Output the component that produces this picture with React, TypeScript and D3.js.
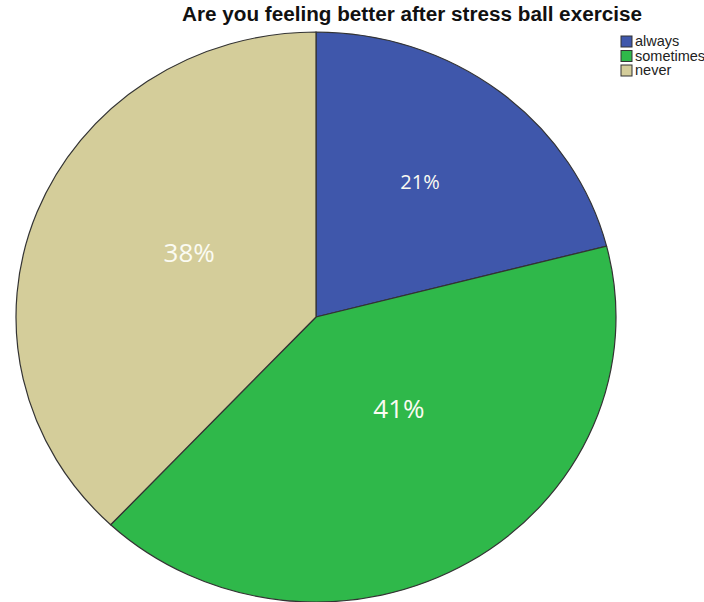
import React from "react";
import * as d3 from "d3";

const categories = ["always", "sometimes", "never"];
const values = [21, 41, 38];
const labels = ["21%", "41%", "38%"];
const colors = ["#3f57ab", "#2fb84a", "#d4cd9a"];
const labelRadiusFrac = [0.587, 0.422, 0.48];
const labelAngleOffsetDeg = [-1.6, -10.3, 6.7];
const labelFontSize = [20, 26, 26];
const title = "Are you feeling better after stress ball exercise";

export default function App() {
  const W = 704, H = 602;
  const cx = 316, cy = 317, rx = 300, ry = 285;
  const pie = d3.pie<number>().sort(null).value((d) => d)(values);
  const arc = d3.arc<d3.PieArcDatum<number>>().innerRadius(0).outerRadius(rx);
  const sy = ry / rx;
  return (
    <svg width={W} height={H} style={{ position: "absolute", left: 0, top: 0, background: "#fff" }}>
      <g transform={`translate(${cx},${cy}) scale(1,${sy})`}>
        {pie.map((p, i) => (
          <path key={i} d={arc(p) || ""} fill={colors[i]} stroke="#333" strokeWidth={1.2} vectorEffect="non-scaling-stroke" />
        ))}
      </g>
      {pie.map((p, i) => {
        const a = (p.startAngle + p.endAngle) / 2 + (labelAngleOffsetDeg[i] * Math.PI) / 180;
        const r = rx * labelRadiusFrac[i];
        const x = cx + r * Math.sin(a);
        const y = cy - r * Math.cos(a) * sy;
        return (
          <text key={i} x={x} y={y} textAnchor="middle" dominantBaseline="central" fill="#fbfbf2"
            fontFamily="'Open Sans', sans-serif" fontSize={labelFontSize[i]}>
            {labels[i]}
          </text>
        );
      })}
      <text x={412} y={21} textAnchor="middle" fontFamily="'Liberation Sans', Arial, sans-serif" fontWeight="bold" fontSize={20.7} fill="#111">
        {title}
      </text>
      {categories.map((c, i) => (
        <g key={c} transform={`translate(621,${36 + i * 14.5})`}>
          <rect x={0} y={0} width={11} height={11} fill={colors[i]} stroke="#333" strokeWidth={1} />
          <text x={14} y={10} fontFamily="'Liberation Sans', Arial, sans-serif" fontSize={14.5} fill="#222">{c}</text>
        </g>
      ))}
    </svg>
  );
}
